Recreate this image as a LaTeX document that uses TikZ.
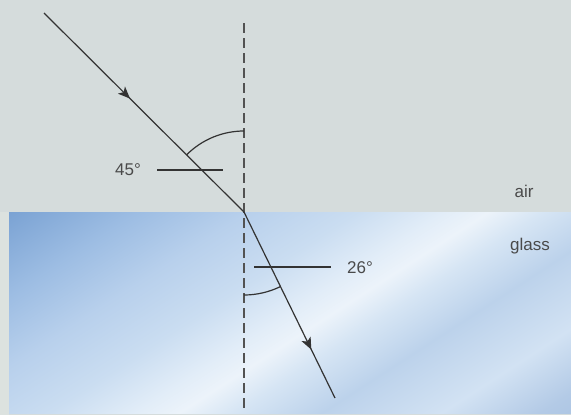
\documentclass[tikz,border=0pt]{standalone}
\usepackage{fontspec}
\setmainfont{Liberation Sans}
\usetikzlibrary{arrows.meta,decorations.markings}
\definecolor{airbg}{HTML}{D5DCDC}
\definecolor{edgebg}{HTML}{DCE2DF}
\definecolor{ink}{HTML}{333333}
\definecolor{txt}{HTML}{4A4A4A}
\definecolor{ga}{HTML}{7AA2D3}
\definecolor{gab}{HTML}{9DBDE3}
\definecolor{gb}{HTML}{B8D0EC}
\definecolor{gc}{HTML}{CADDF1}
\definecolor{gd}{HTML}{E2EDF8}
\definecolor{ge}{HTML}{ECF3FA}
\definecolor{gf}{HTML}{D6E5F4}
\definecolor{gg}{HTML}{BCD2EB}
\definecolor{gh}{HTML}{D2E2F3}
\definecolor{gi}{HTML}{B3CAE6}
\definecolor{gj}{HTML}{A8C2E1}
\pgfdeclarehorizontalshading{glassshade}{100bp}{color(0bp)=(ga); color(30bp)=(ga); color(36bp)=(gab); color(41bp)=(gb); color(46bp)=(gc); color(50bp)=(gd); color(52bp)=(ge); color(54.5bp)=(gf); color(58.5bp)=(gg); color(64bp)=(gh); color(68.5bp)=(gi); color(72bp)=(gj); color(100bp)=(gj)}
\tikzset{
  ray/.style={draw=ink, line width=1.2pt},
  normalline/.style={draw=ink!85, line width=1.2pt, dash pattern=on 10pt off 5pt},
  leader/.style={draw=ink, line width=1.2pt},
  anglearc/.style={draw=ink, line width=1.2pt},
  lbl/.style={text=txt, font=\fontsize{17}{20}\selectfont, inner sep=0pt},
  midarrow/.style={postaction={decorate}, decoration={markings, mark=at position #1 with {\arrow{Stealth[length=12pt,width=10pt,inset=3pt]}}}},
}
\begin{document}
\begin{tikzpicture}[x=1pt,y=-1pt]
\useasboundingbox (0,0) rectangle (571,415);
\fill[airbg] (0,0) rectangle (571,415);
\fill[edgebg] (0,212) rectangle (9,415);
\begin{scope}
  \clip (9,212) rectangle (571,413);
  \shade[shading=glassshade, shading angle=-57] (-10,12.5) rectangle (590,612.5);
\end{scope}
% coordinates
\coordinate (start) at (44,13);
\coordinate (hit) at (244,212);
\coordinate (end) at (335,398);
\coordinate (ntop) at (244,23);
\coordinate (nbot) at (244,410);
\coordinate (l1a) at (157,170);
\coordinate (l1b) at (223,170);
\coordinate (l2a) at (254,267);
\coordinate (l2b) at (331,267);
\coordinate (a1s) at (244,131);
\coordinate (a2s) at (244,295);
% normal
\draw[normalline] (ntop) -- (nbot);
% rays
\draw[ray, midarrow=0.43] (start) -- (hit);
\draw[ray, midarrow=0.74] (hit) -- (end);
% angle arcs
\draw[anglearc] (a1s) arc[start angle=-90, end angle=-135, radius=81];
\draw[anglearc] (a2s) arc[start angle=90, end angle=64, radius=83];
% leaders
\draw[leader] (l1a) -- (l1b);
\draw[leader] (l2a) -- (l2b);
% labels
\node[lbl] (t45) at (128,170) {45°};
\node[lbl] (t26) at (360,268) {26°};
\node[lbl] (tair) at (524,191) {air};
\node[lbl] (tglass) at (530,246) {glass};
\end{tikzpicture}
\end{document}
